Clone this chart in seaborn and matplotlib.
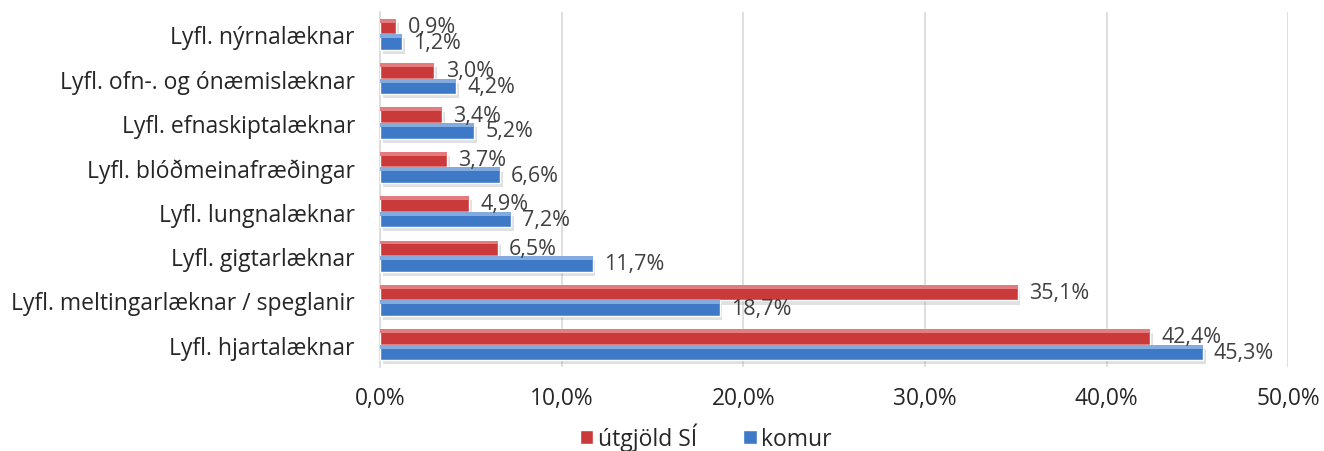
import pandas as pd
import matplotlib
matplotlib.use('Agg')
import matplotlib.pyplot as plt
import matplotlib.patheffects as pe
from matplotlib.patches import Rectangle
from matplotlib.ticker import FuncFormatter
import seaborn as sns

categories = [
    'Lyfl. nýrnalæknar',
    'Lyfl. ofn-. og ónæmislæknar',
    'Lyfl. efnaskiptalæknar',
    'Lyfl. blóðmeinafræðingar',
    'Lyfl. lungnalæknar',
    'Lyfl. gigtarlæknar',
    'Lyfl. meltingarlæknar / speglanir',
    'Lyfl. hjartalæknar',
]
utgjold = [0.9, 3.0, 3.4, 3.7, 4.9, 6.5, 35.1, 42.4]
komur = [1.2, 4.2, 5.2, 6.6, 7.2, 11.7, 18.7, 45.3]
series_names = ['útgjöld SÍ', 'komur']
x_ticks = [0, 10, 20, 30, 40, 50]

colors = {'útgjöld SÍ': '#CB3A3B', 'komur': '#3D79C6'}
highlights = {'útgjöld SÍ': '#E47C7D', 'komur': '#82ACE0'}


def pct(v):
    return f'{v:.1f}'.replace('.', ',') + '%'


df = pd.concat([
    pd.DataFrame({'cat': categories, 'val': utgjold, 'series': series_names[0]}),
    pd.DataFrame({'cat': categories, 'val': komur, 'series': series_names[1]}),
])

sns.set_style('white')
plt.rcParams['font.family'] = ['Open Sans', 'DejaVu Sans']

fig = plt.figure(figsize=(13.24, 4.52), dpi=100)
ax = fig.add_axes([0.287, 0.186, 0.686, 0.785])

sns.barplot(data=df, y='cat', x='val', hue='series', order=categories,
            hue_order=series_names, palette=colors, orient='h', width=0.7,
            saturation=1, legend=False, ax=ax, zorder=3)

# soft shadow + top highlight to mimic the excel bar look
for container, name in zip(ax.containers, series_names):
    for bar in container:
        bar.set_path_effects([pe.SimplePatchShadow(offset=(2, -3), shadow_rgbFace='#999999', alpha=0.3),
                              pe.Normal()])
        x0, y0 = bar.get_x(), bar.get_y()
        w, h = bar.get_width(), bar.get_height()
        ax.add_patch(Rectangle((x0, y0), w, h * 0.25, facecolor=highlights[name],
                               edgecolor='none', zorder=4))

for container, vals in zip(ax.containers, [utgjold, komur]):
    ax.bar_label(container, labels=[pct(v) for v in vals], padding=8,
                 fontsize=15.5, color='#404040', zorder=5)

ax.set_xlim(0, 50)
ax.set_xticks(x_ticks)
ax.xaxis.set_major_formatter(FuncFormatter(lambda v, p: pct(v)))
ax.grid(axis='x', color='#D9D9D9', linewidth=1.2, zorder=0)
ax.set_xlabel('')
ax.set_ylabel('')
ax.tick_params(axis='x', labelsize=16.4, length=0, pad=14)
ax.tick_params(axis='y', labelsize=16.5, length=0, pad=18)

for s in ['top', 'right', 'bottom']:
    ax.spines[s].set_visible(False)
ax.spines['left'].set_color('#D9D9D9')
ax.spines['left'].set_linewidth(1.2)

handles = [Rectangle((0, 0), 1, 1, facecolor=colors[n]) for n in series_names]
fig.legend(handles, series_names, loc='center', bbox_to_anchor=(0.533, 0.031),
           ncol=2, frameon=False, fontsize=16.5, handlelength=0.6, handleheight=0.6,
           handletextpad=0.2, columnspacing=2.0)

fig.savefig('out.png', dpi=100)
